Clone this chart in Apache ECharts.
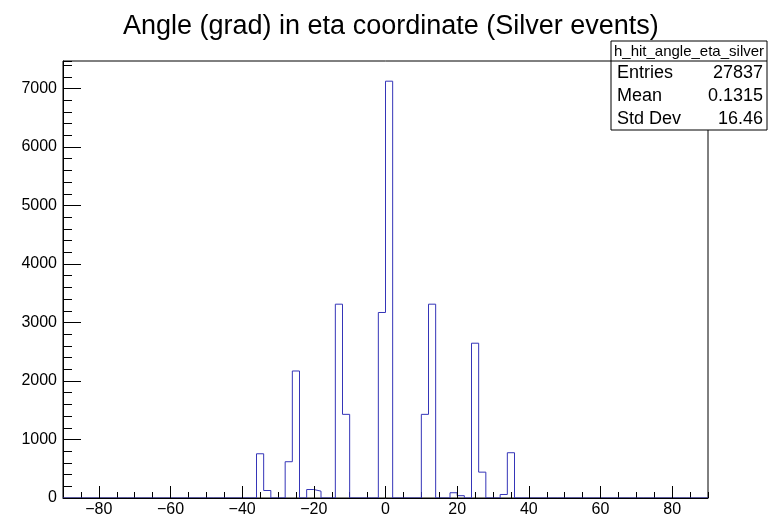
<!DOCTYPE html>
<html>
<head>
<meta charset="utf-8">
<title>h_hit_angle_eta_silver</title>
<script src="https://cdn.jsdelivr.net/npm/echarts@6/dist/echarts.min.js"></script>
<style>
  html, body { margin: 0; padding: 0; background: #fff; }
  #chart { width: 768px; height: 518px; }
</style>
</head>
<body>
<div id="chart"></div>
<script>
// histogram binning (2 grad bins from -90 to 90)
const xMin = -90
const xMax = 90
const binWidth = 2
// only the filled bins, by low edge
const binLowEdges = [-36, -34, -28, -26, -22, -20, -14, -12, -2, 0, 10, 12, 18, 20, 24, 26, 32, 34]
const binCounts = [756, 128, 620, 2171, 145, 117, 3313, 1430, 3171, 7125, 1430, 3313, 90, 40, 2646, 442, 60, 774]
const yMax = 7470

const xTickLabels = [-80, -60, -40, -20, 0, 20, 40, 60, 80]
const statsName = 'h_hit_angle_eta_silver'
const statsLabels = ['Entries', 'Mean', 'Std Dev']
const statsValues = ['27837', '0.1315', '16.46']

const font = 'Liberation Sans, Arial, Helvetica, sans-serif'
const lineColor = '#3535b8'

// one point per bin low edge, empty bins are 0
const stepData = []
for (let x = xMin; x < xMax; x += binWidth) {
  const i = binLowEdges.indexOf(x)
  stepData.push([x, i >= 0 ? binCounts[i] : 0])
}
stepData.push([xMax, 0])

const myChart = echarts.init(document.getElementById('chart'), null, { renderer: 'canvas' })

// stats box, top right
const statsX = 611
const statsY = 41
const statsW = 156
const headH = 20
const rowH = 23

const statsChildren = [
  { type: 'rect', shape: { x: statsX, y: statsY, width: statsW, height: headH + rowH * statsLabels.length }, style: { fill: '#fff', stroke: '#000', lineWidth: 1 } },
  { type: 'line', shape: { x1: statsX, y1: statsY + headH, x2: statsX + statsW, y2: statsY + headH }, style: { stroke: '#000', lineWidth: 1 } },
  { type: 'text', x: statsX + statsW / 2, y: statsY + headH / 2 + 1, style: { text: statsName, font: '15px ' + font, fill: '#000', align: 'center', verticalAlign: 'middle' } }
]
statsLabels.forEach((lab, i) => {
  const cy = statsY + headH + rowH * i + rowH / 2 + 1
  statsChildren.push({ type: 'text', x: statsX + 6, y: cy, style: { text: lab, font: '18px ' + font, fill: '#000', align: 'left', verticalAlign: 'middle' } })
  statsChildren.push({ type: 'text', x: statsX + statsW - 4, y: cy, style: { text: statsValues[i], font: '18px ' + font, fill: '#000', align: 'right', verticalAlign: 'middle' } })
})

const option = {
  animation: false,
  backgroundColor: '#fff',
  title: {
    text: 'Angle (grad) in eta coordinate (Silver events)',
    left: 118,
    top: 8,
    textStyle: { fontFamily: font, fontSize: 27, fontWeight: 'normal', color: '#000' }
  },
  grid: {
    left: 63,
    right: 60,
    top: 61,
    bottom: 20,
    show: true,
    borderColor: '#000',
    borderWidth: 1,
    backgroundColor: 'transparent'
  },
  xAxis: [
    {
      type: 'value',
      min: xMin,
      max: xMax,
      interval: 10,
      z: 10,
      axisLine: { show: true, onZero: false, lineStyle: { color: '#000', width: 1 } },
      axisTick: { show: true, inside: true, length: 12, customValues: xTickLabels, lineStyle: { color: '#000' } },
      axisLabel: {
        customValues: xTickLabels,
        margin: 4,
        color: '#000',
        fontFamily: font,
        fontSize: 16,
        formatter: v => String(v).replace('-', '\u2212')
      },
      splitLine: { show: false }
    },
    {
      type: 'value',
      position: 'bottom',
      min: xMin,
      max: xMax,
      interval: 5,
      axisLine: { show: false, onZero: false },
      axisTick: { show: true, inside: true, length: 6, lineStyle: { color: '#000' } },
      axisLabel: { show: false },
      splitLine: { show: false }
    }
  ],
  yAxis: [
    {
      type: 'value',
      position: 'left',
      min: 0,
      max: yMax,
      interval: 1000,
      axisLine: { show: true, onZero: false, lineStyle: { color: '#000', width: 1 } },
      axisTick: { show: true, inside: true, length: 18, lineStyle: { color: '#000' } },
      axisLabel: {
        margin: 6,
        color: '#000',
        fontFamily: font,
        fontSize: 16,
        showMaxLabel: false,
        formatter: v => (v % 1000 === 0 ? String(v) : '')
      },
      splitLine: { show: false }
    },
    {
      type: 'value',
      position: 'left',
      offset: 0,
      min: 0,
      max: yMax,
      interval: 200,
      axisLine: { show: false, onZero: false },
      axisTick: { show: true, inside: true, length: 9, lineStyle: { color: '#000' } },
      axisLabel: { show: false },
      splitLine: { show: false }
    }
  ],
  series: [
    {
      type: 'line',
      step: 'end',
      data: stepData,
      symbol: 'none',
      z: 2,
      lineStyle: { color: lineColor, width: 1 }
    }
  ],
  graphic: [
    { type: 'group', z: 100, children: statsChildren }
  ]
}

myChart.setOption(option)
</script>
</body>
</html>
